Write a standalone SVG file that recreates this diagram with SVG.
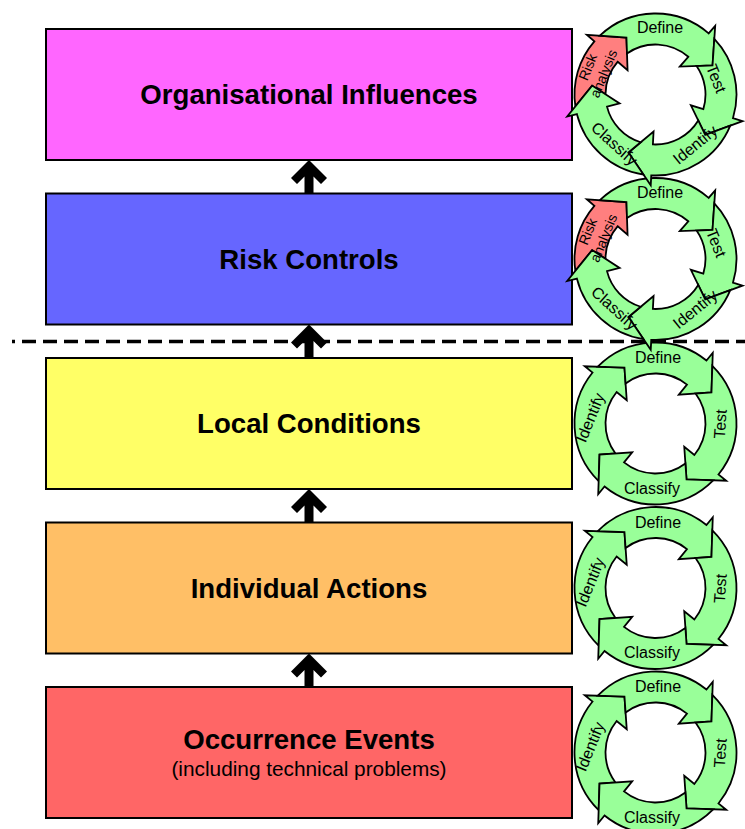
<svg xmlns="http://www.w3.org/2000/svg" width="745" height="829" viewBox="0 0 745 829">
<style>
.box{stroke:#000;stroke-width:2}
.title{font-family:"Liberation Sans",Arial,sans-serif;font-weight:bold;font-size:27.6px;text-anchor:middle;fill:#000}
.sub{font-family:"Liberation Sans",Arial,sans-serif;font-size:20.8px;text-anchor:middle;fill:#000}
.g{fill:#99FF99;stroke:#000;stroke-width:1.8;stroke-linejoin:miter}
.r{fill:#FF7F7F;stroke:#000;stroke-width:1.8;stroke-linejoin:miter}
.c{font-family:"Liberation Sans",Arial,sans-serif;font-size:16px;text-anchor:middle;fill:#000}
.c14{font-family:"Liberation Sans",Arial,sans-serif;font-size:14px;text-anchor:middle;fill:#000}
.up{fill:#000}
</style>
<defs>
<path id="a90" d="M -80.62 -7.86 A 81 81 0 0 1 0 -81 L 0 -91 L 23.97 -59.34 L 0 -37 L 0 -50 A 50 50 0 0 0 -48.46 -12.30 L -59.34 -23.97 Z"/>
<path id="a55" d="M -61.53 -52.68 A 81 81 0 0 1 0 -81 L 0 -91 L 23.97 -59.34 L 0 -37 L 0 -50 A 50 50 0 0 0 -32.65 -37.88 L -34.86 -53.67 Z"/>
<path id="a66" d="M -70.45 -39.97 A 81 81 0 0 1 0 -81 L 0 -91 L 23.97 -59.34 L 0 -37 L 0 -50 A 50 50 0 0 0 -39.27 -30.95 L -44.46 -46.04 Z"/>
<path id="a73" d="M -74.80 -31.09 A 81 81 0 0 1 0 -81 L 0 -91 L 23.97 -59.34 L 0 -37 L 0 -50 A 50 50 0 0 0 -42.75 -25.93 L -49.74 -40.28 Z"/>
<path id="a76" d="M -76.32 -27.13 A 81 81 0 0 1 0 -81 L 0 -91 L 23.97 -59.34 L 0 -37 L 0 -50 A 50 50 0 0 0 -44.05 -23.66 L -51.78 -37.62 Z"/>
<path id="uparrow" d="M 0 0 L 18 18 L 12 24 L 4.5 16.5 L 4.5 33.5 L -4.5 33.5 L -4.5 16.5 L -12 24 L -18 18 Z"/>
</defs>
<rect width="745" height="829" fill="#fff"/>
<line x1="12" y1="341.5" x2="745" y2="341.5" stroke="#000" stroke-width="3.5" stroke-dasharray="3 7 14 7 14 7 14 7 14 7 14 7 14 7 14 7 14 7 14 7 14 7 14 7 14 7 14 7 14 7 14 7 14 7 14 7 14 7 14 7 14 7 14 7 14 7 14 7 14 7 14 7 14 7 14 7 14 7 14 7 14 7 14 7 14 7 14 7 14 7 14 7 14 7 14 7 14 7 14 7 14 7 14 7 14 7 14 7 14 7 14 7 14 7 14 7 14 7 14 7 14 7 14 7 14 7"/>
<g id="node-organisational">
<rect class="box" x="46" y="29" width="526" height="131" fill="#FF66FF"/>
<text class="title" x="309" y="104">Organisational Influences</text>
</g>
<g id="node-risk">
<rect class="box" x="46" y="193.5" width="526" height="131" fill="#6666FF"/>
<text class="title" x="309" y="268.5">Risk Controls</text>
</g>
<g id="node-local">
<rect class="box" x="46" y="358" width="526" height="131" fill="#FFFF66"/>
<text class="title" x="309" y="433">Local Conditions</text>
</g>
<g id="node-individual">
<rect class="box" x="46" y="522.5" width="526" height="131" fill="#FFBF66"/>
<text class="title" x="309" y="597.5">Individual Actions</text>
</g>
<g id="node-occurrence">
<rect class="box" x="46" y="687" width="526" height="131" fill="#FF6666"/>
<text class="title" x="309" y="749">Occurrence Events</text>
<text class="sub" x="309" y="776">(including technical problems)</text>
</g>
<g id="connectors">
<use href="#uparrow" class="up" transform="translate(309 160)"/>
<use href="#uparrow" class="up" transform="translate(309 324.5)"/>
<use href="#uparrow" class="up" transform="translate(309 489)"/>
<use href="#uparrow" class="up" transform="translate(309 653.5)"/>
</g>
<g id="cycle-occurrence" transform="translate(655.5 752.5)">
<use href="#a90" class="g" transform="rotate(-51)"/>
<use href="#a90" class="g" transform="rotate(39)"/>
<use href="#a90" class="g" transform="rotate(129)"/>
<use href="#a90" class="g" transform="rotate(219)"/>
<text class="c" x="2.5" y="-60.5">Define</text>
<text class="c" transform="translate(64.5 0.5) rotate(-86)" y="5.7">Test</text>
<text class="c" x="-3.5" y="70">Classify</text>
<text class="c" transform="translate(-65.5 -6) rotate(-68)" y="5.7">Identify</text>
</g>
<g id="cycle-individual" transform="translate(655.5 588)">
<use href="#a90" class="g" transform="rotate(-51)"/>
<use href="#a90" class="g" transform="rotate(39)"/>
<use href="#a90" class="g" transform="rotate(129)"/>
<use href="#a90" class="g" transform="rotate(219)"/>
<text class="c" x="2.5" y="-60.5">Define</text>
<text class="c" transform="translate(64.5 0.5) rotate(-86)" y="5.7">Test</text>
<text class="c" x="-3.5" y="70">Classify</text>
<text class="c" transform="translate(-65.5 -6) rotate(-68)" y="5.7">Identify</text>
</g>
<g id="cycle-local" transform="translate(655.5 423.5)">
<use href="#a90" class="g" transform="rotate(-51)"/>
<use href="#a90" class="g" transform="rotate(39)"/>
<use href="#a90" class="g" transform="rotate(129)"/>
<use href="#a90" class="g" transform="rotate(219)"/>
<text class="c" x="2.5" y="-60.5">Define</text>
<text class="c" transform="translate(64.5 0.5) rotate(-86)" y="5.7">Test</text>
<text class="c" x="-3.5" y="70">Classify</text>
<text class="c" transform="translate(-65.5 -6) rotate(-68)" y="5.7">Identify</text>
</g>
<g id="cycle-risk" transform="translate(655.5 259)">
<use href="#a55" class="r" transform="rotate(-49)"/>
<use href="#a90" class="g" transform="rotate(41)"/>
<use href="#a66" class="g" transform="rotate(107)"/>
<use href="#a76" class="g" transform="rotate(183)"/>
<use href="#a73" class="g" transform="rotate(256)"/>
<text class="c" x="4.5" y="-61.5">Define</text>
<text class="c" transform="translate(61 -16) rotate(68)" y="5.7">Test</text>
<text class="c" transform="translate(39.5 50) rotate(-39)" y="5.7">Identify</text>
<text class="c" transform="translate(-41 49) rotate(42)" y="5.7">Classify</text>
<text class="c14" transform="translate(-59.5 -24) rotate(-68)"><tspan x="0" y="-4">Risk</tspan><tspan x="0" y="13">analysis</tspan></text>
</g>
<g id="cycle-organisational" transform="translate(655.5 94.5)">
<use href="#a55" class="r" transform="rotate(-49)"/>
<use href="#a90" class="g" transform="rotate(41)"/>
<use href="#a66" class="g" transform="rotate(107)"/>
<use href="#a76" class="g" transform="rotate(183)"/>
<use href="#a73" class="g" transform="rotate(256)"/>
<text class="c" x="4.5" y="-61.5">Define</text>
<text class="c" transform="translate(61 -16) rotate(68)" y="5.7">Test</text>
<text class="c" transform="translate(39.5 50) rotate(-39)" y="5.7">Identify</text>
<text class="c" transform="translate(-41 49) rotate(42)" y="5.7">Classify</text>
<text class="c14" transform="translate(-59.5 -24) rotate(-68)"><tspan x="0" y="-4">Risk</tspan><tspan x="0" y="13">analysis</tspan></text>
</g>
</svg>
